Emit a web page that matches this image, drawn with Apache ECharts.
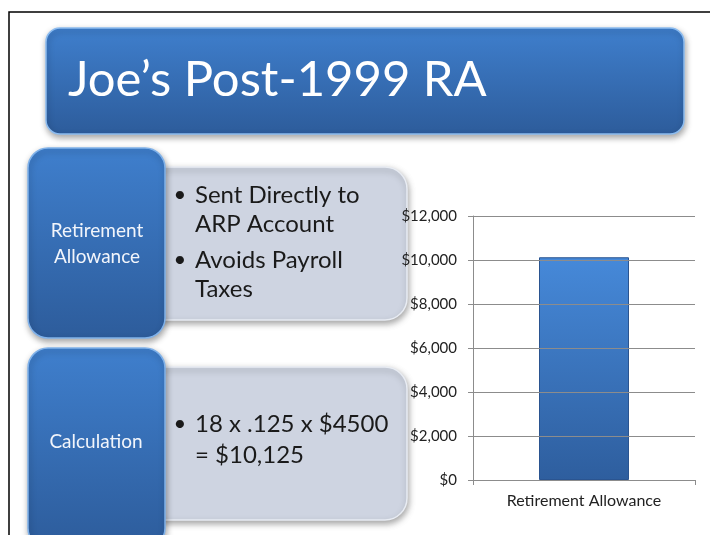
<!DOCTYPE html>
<html>
<head>
<meta charset="utf-8">
<script src="https://cdn.jsdelivr.net/npm/echarts@6/dist/echarts.min.js"></script>
<style>
  html, body { margin: 0; padding: 0; background: #fff; }
  #main { width: 710px; height: 535px; }
</style>
</head>
<body>
<div id="main"></div>
<script>
// chart data
var categories = ["Retirement Allowance"];
var allowanceValues = [10125];
var yMax = 12000;
var yStep = 2000;

// slide text
var titleText = "Joe\u2019s Post-1999 RA";
var topLabel = ["Retirement", "Allowance"];
var topBullets = [["Sent Directly to", "ARP Account"], ["Avoids Payroll", "Taxes"]];
var bottomLabel = ["Calculation"];
var bottomBullets = [["18 x .125 x $4500", "= $10,125"]];

var chartDom = document.getElementById("main");
var myChart = echarts.init(chartDom);

var FONT = "Lato, 'Open Sans', sans-serif";

function blueFill() {
  return new echarts.graphic.LinearGradient(0, 0, 0, 1, [
    { offset: 0, color: "#3f7fcd" },
    { offset: 1, color: "#2d5c9b" }
  ]);
}

var shadow = {
  shadowBlur: 6,
  shadowOffsetX: 1,
  shadowOffsetY: 3,
  shadowColor: "rgba(0,0,0,0.35)"
};

function box(x, y, w, h, r, fill, stroke, z) {
  return {
    type: "rect",
    z: z,
    shape: { x: x, y: y, width: w, height: h, r: r },
    style: Object.assign({ fill: fill, stroke: stroke, lineWidth: 1.5 }, shadow)
  };
}

function txt(x, y, text, size, color, align, z) {
  return {
    type: "text",
    z: z,
    style: {
      x: x,
      y: y,
      text: text,
      font: size + "px " + FONT,
      fill: color,
      align: align || "left",
      verticalAlign: "middle"
    }
  };
}

var graphics = [];
// outer frame
graphics.push({
  type: "rect",
  z: 0,
  shape: { x: 9, y: 12, width: 720, height: 540 },
  style: { fill: "none", stroke: "#000", lineWidth: 1.5 }
});
// title
graphics.push(box(46, 28, 638, 106, 14, blueFill(), "#8cbcf0", 1));
graphics.push(txt(68, 80, titleText, 49, "#fff", "left", 2));

// top block
graphics.push(box(140, 167, 267, 153, 22, "#ced4e1", "#e8ecf3", 1));
graphics.push(box(28, 148, 137, 190, 20, blueFill(), "#80b2ea", 2));
graphics.push(txt(97, 231, topLabel[0], 19, "#f2f5fb", "center", 3));
graphics.push(txt(97, 257, topLabel[1], 19, "#f2f5fb", "center", 3));
var topLineY = [[195, 224], [260, 289]];
topBullets.forEach(function (lines, i) {
  graphics.push(txt(180, topLineY[i][0], "\u2022", 22, "#1a1a1a", "center", 3));
  lines.forEach(function (line, j) {
    graphics.push(txt(195, topLineY[i][j], line, 24, "#1a1a1a", "left", 3));
  });
});

// bottom block
graphics.push(box(140, 367, 267, 153, 22, "#ced4e1", "#e8ecf3", 1));
graphics.push(box(28, 348, 137, 200, 20, blueFill(), "#80b2ea", 2));
graphics.push(txt(96, 442, bottomLabel[0], 19, "#f2f5fb", "center", 3));
var bottomLineY = [[424, 455]];
bottomBullets.forEach(function (lines, i) {
  graphics.push(txt(180, bottomLineY[i][0], "\u2022", 22, "#1a1a1a", "center", 3));
  lines.forEach(function (line, j) {
    graphics.push(txt(195, bottomLineY[i][j], line, 24, "#1a1a1a", "left", 3));
  });
});

var option = {
  backgroundColor: "#fff",
  animation: false,
  textStyle: { fontFamily: FONT },
  graphic: { elements: graphics },
  grid: {
    left: 473,
    right: 15,
    top: 216,
    bottom: 55,
    containLabel: false
  },
  xAxis: {
    type: "category",
    data: categories,
    z: 10,
    axisLine: { lineStyle: { color: "#8c8c8c", width: 1 } },
    axisTick: { show: true, length: 5, lineStyle: { color: "#8c8c8c" } },
    axisLabel: { color: "#222", fontSize: 16, margin: 13 }
  },
  yAxis: {
    type: "value",
    min: 0,
    max: yMax,
    interval: yStep,
    z: 10,
    axisLine: { show: true, lineStyle: { color: "#8c8c8c", width: 1 } },
    axisTick: { show: true, length: 5, lineStyle: { color: "#8c8c8c" } },
    splitLine: { lineStyle: { color: "#8c8c8c", width: 1 } },
    axisLabel: {
      color: "#222",
      fontSize: 15,
      margin: 16,
      formatter: function (v) {
        return "$" + v.toLocaleString("en-US");
      }
    }
  },
  series: [
    {
      type: "bar",
      z: 5,
      barWidth: 90,
      data: allowanceValues,
      itemStyle: {
        color: new echarts.graphic.LinearGradient(0, 0, 0, 1, [
          { offset: 0, color: "#4689d9" },
          { offset: 1, color: "#2e5e9e" }
        ]),
        borderColor: "#2a5490",
        borderWidth: 1
      }
    }
  ]
};

option && myChart.setOption(option);
</script>
</body>
</html>
